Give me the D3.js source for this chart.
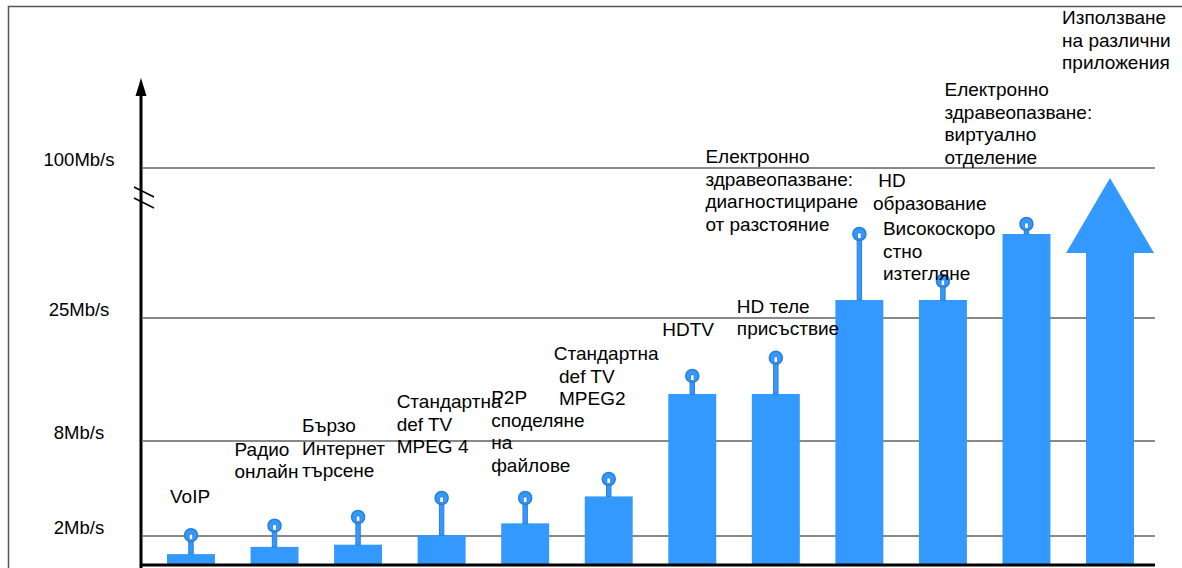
<!DOCTYPE html>
<html>
<head>
<meta charset="utf-8">
<script src="https://cdn.jsdelivr.net/npm/d3@7"></script>
<style>
  body { margin: 0; background: #fff; }
  text { font-family: "Liberation Sans", Arial, sans-serif; fill: #000; }
</style>
</head>
<body>
<div id="chart"></div>
<script>
// categories (one bar each), the last one is the big arrow
var categories = ["VoIP", "Radio", "Search", "SD MPEG4", "P2P", "SD MPEG2",
  "HDTV", "HD telepresence", "eHealth diag", "HD edu / download", "eHealth virtual", "Apps"]
// bar height and marker (peak) in Mb/s
var barValues  = [0.75, 1.25, 1.4, 2.05, 2.8, 4.5, 14.5, 14.5, 34, 34, 67, 57.5]
var peakValues = [2.05, 2.65, 3.2, 4.4, 4.4, 5.6, 17, 19.5, 67, 43.5, 72, 95]
// axis ticks (broken / non linear axis)
var tickValues = [2, 8, 25, 100]
var tickLabels = ["2Mb/s", "8Mb/s", "25Mb/s", "100Mb/s"]
// annotation texts and which bar they belong to
var labelText = [
  ["VoIP"],
  ["Радио", "онлайн"],
  ["Бързо", "Интернет", "търсене"],
  ["Стандартна", "def TV", "MPEG 4"],
  ["P2P", "споделяне", "на", "файлове"],
  ["Стандартна", " def TV", " MPEG2"],
  ["HDTV"],
  ["HD теле", "присъствие"],
  ["Електронно", "здравеопазване:", "диагностициране", "от разстояние"],
  [" HD", "образование"],
  ["Високоскоро", "стно", "изтегляне"],
  ["Електронно", "здравеопазване:", "виртуално", "отделение"],
  ["Използване", "на различни", "приложения"]
]
var labelBar = [0, 1, 2, 3, 4, 5, 6, 7, 8, 9, 9, 10, 11]

// layout: label offset from bar left / from marker top (px)
var labelOffset = [[3,-38],[-16,-76],[-32,-91],[-21,-96],[-10,-100],[-31,-125],
  [-6,-46],[-15,-51],[-130,-77],[-46,-100],[-36,-52],[-58,-134],[-24,-160]]

var W = 1182, H = 568
var blue = "#3399ff", darkBlue = "#2a7fd6"
var lineH = 22.7

var svg = d3.select("#chart").append("svg")
    .attr("width", W)
    .attr("height", H)

// piecewise scale for the broken axis
var y = d3.scaleLinear()
    .domain([0, 2, 8, 25, 100])
    .range([565, 536, 441, 318, 168])

var x = d3.scaleBand()
    .domain(categories)
    .range([167, 1134])
    .paddingInner(0.426)
    .paddingOuter(0)

var axisX = 141

// outer frame (top + left)
svg.append("path")
    .attr("d", "M8.5," + H + "V6.5H" + W)
    .style("fill", "none")
    .style("stroke", "#555")
    .style("stroke-width", 1.5)

// grid lines
svg.append("g").selectAll("line")
    .data(tickValues)
  .enter().append("line")
    .attr("x1", axisX + 2)
    .attr("x2", 1155)
    .attr("y1", function(d){ return y(d) })
    .attr("y2", function(d){ return y(d) })
    .style("stroke", "#888")
    .style("stroke-width", 2)

svg.append("g").selectAll("text")
    .data(tickValues)
  .enter().append("text")
    .attr("x", 79)
    .attr("y", function(d){ return y(d) - 2 })
    .attr("text-anchor", "middle")
    .style("font-size", "18.5px")
    .text(function(d, i){ return tickLabels[i] })

// bars (all but the arrow)
var bars = categories.slice(0, -1)
svg.append("g").selectAll("rect")
    .data(bars)
  .enter().append("rect")
    .attr("x", function(d){ return x(d) })
    .attr("y", function(d, i){ return y(barValues[i]) })
    .attr("width", x.bandwidth())
    .attr("height", function(d, i){ return y(0) - y(barValues[i]) })
    .style("fill", blue)

// the arrow for the last category
var last = categories.length - 1
var ax0 = x(categories[last]), ax1 = ax0 + x.bandwidth()
var shaftTop = y(barValues[last])
svg.append("path")
    .attr("d", "M" + ax0 + "," + y(0) + "V" + shaftTop + "H" + (ax0 - 20) +
      "L" + ((ax0 + ax1) / 2) + "," + y(peakValues[last]) +
      "L" + (ax1 + 20) + "," + shaftTop + "H" + ax1 + "V" + y(0) + "Z")
    .style("fill", blue)

// pin markers
var pins = svg.append("g").selectAll("g")
    .data(bars)
  .enter().append("g")
    .attr("transform", function(d){ return "translate(" + (x(d) + x.bandwidth() / 2) + ",0)" })

pins.append("rect")
    .attr("x", -2.2)
    .attr("y", function(d, i){ return y(peakValues[i]) + 4 })
    .attr("width", 4.4)
    .attr("height", function(d, i){ return Math.max(0, y(barValues[i]) - y(peakValues[i]) - 4) })
    .style("fill", blue)
    .style("stroke", darkBlue)
    .style("stroke-width", 1)

pins.append("circle")
    .attr("cx", 0)
    .attr("cy", function(d, i){ return y(peakValues[i]) })
    .attr("r", 6.5)
    .style("fill", blue)
    .style("stroke", darkBlue)
    .style("stroke-width", 1.5)

pins.append("rect")
    .attr("x", -1.8)
    .attr("y", function(d, i){ return y(peakValues[i]) - 1 })
    .attr("width", 3.6)
    .attr("height", 5.5)
    .style("fill", "#fff")
    .style("stroke", darkBlue)
    .style("stroke-width", 0.8)

// axes: bottom line, vertical arrow, break mark
svg.append("line")
    .attr("x1", axisX).attr("x2", 1155)
    .attr("y1", y(0)).attr("y2", y(0))
    .style("stroke", "#000")
    .style("stroke-width", 3)

svg.append("line")
    .attr("x1", axisX).attr("x2", axisX)
    .attr("y1", y(0) + 3).attr("y2", 94)
    .style("stroke", "#000")
    .style("stroke-width", 3)

svg.append("path")
    .attr("d", "M" + (axisX - 5.5) + ",96L" + axisX + ",78L" + (axisX + 5.5) + ",96Z")
    .style("fill", "#000")

var brk = y(100) + 28
svg.append("g").selectAll("line")
    .data([0, 11])
  .enter().append("line")
    .attr("x1", axisX - 7).attr("x2", axisX + 13)
    .attr("y1", function(d){ return brk - 9 + d }).attr("y2", function(d){ return brk + 1 + d })
    .style("stroke", "#000")
    .style("stroke-width", 1.5)

// annotations
var labels = svg.append("g").selectAll("text")
    .data(labelText)
  .enter().append("text")
    .style("font-size", "19px")
    .style("white-space", "pre")
    .attr("transform", function(d, i){
      var b = labelBar[i]
      var lx = x(categories[b]) + labelOffset[i][0]
      var ly = y(peakValues[b]) + labelOffset[i][1] + 6
      return "translate(" + lx + "," + ly + ")"
    })

labels.selectAll("tspan")
    .data(function(d){ return d })
  .enter().append("tspan")
    .attr("x", 0)
    .attr("y", function(d, j){ return j * lineH })
    .text(function(d){ return d })
</script>
</body>
</html>
